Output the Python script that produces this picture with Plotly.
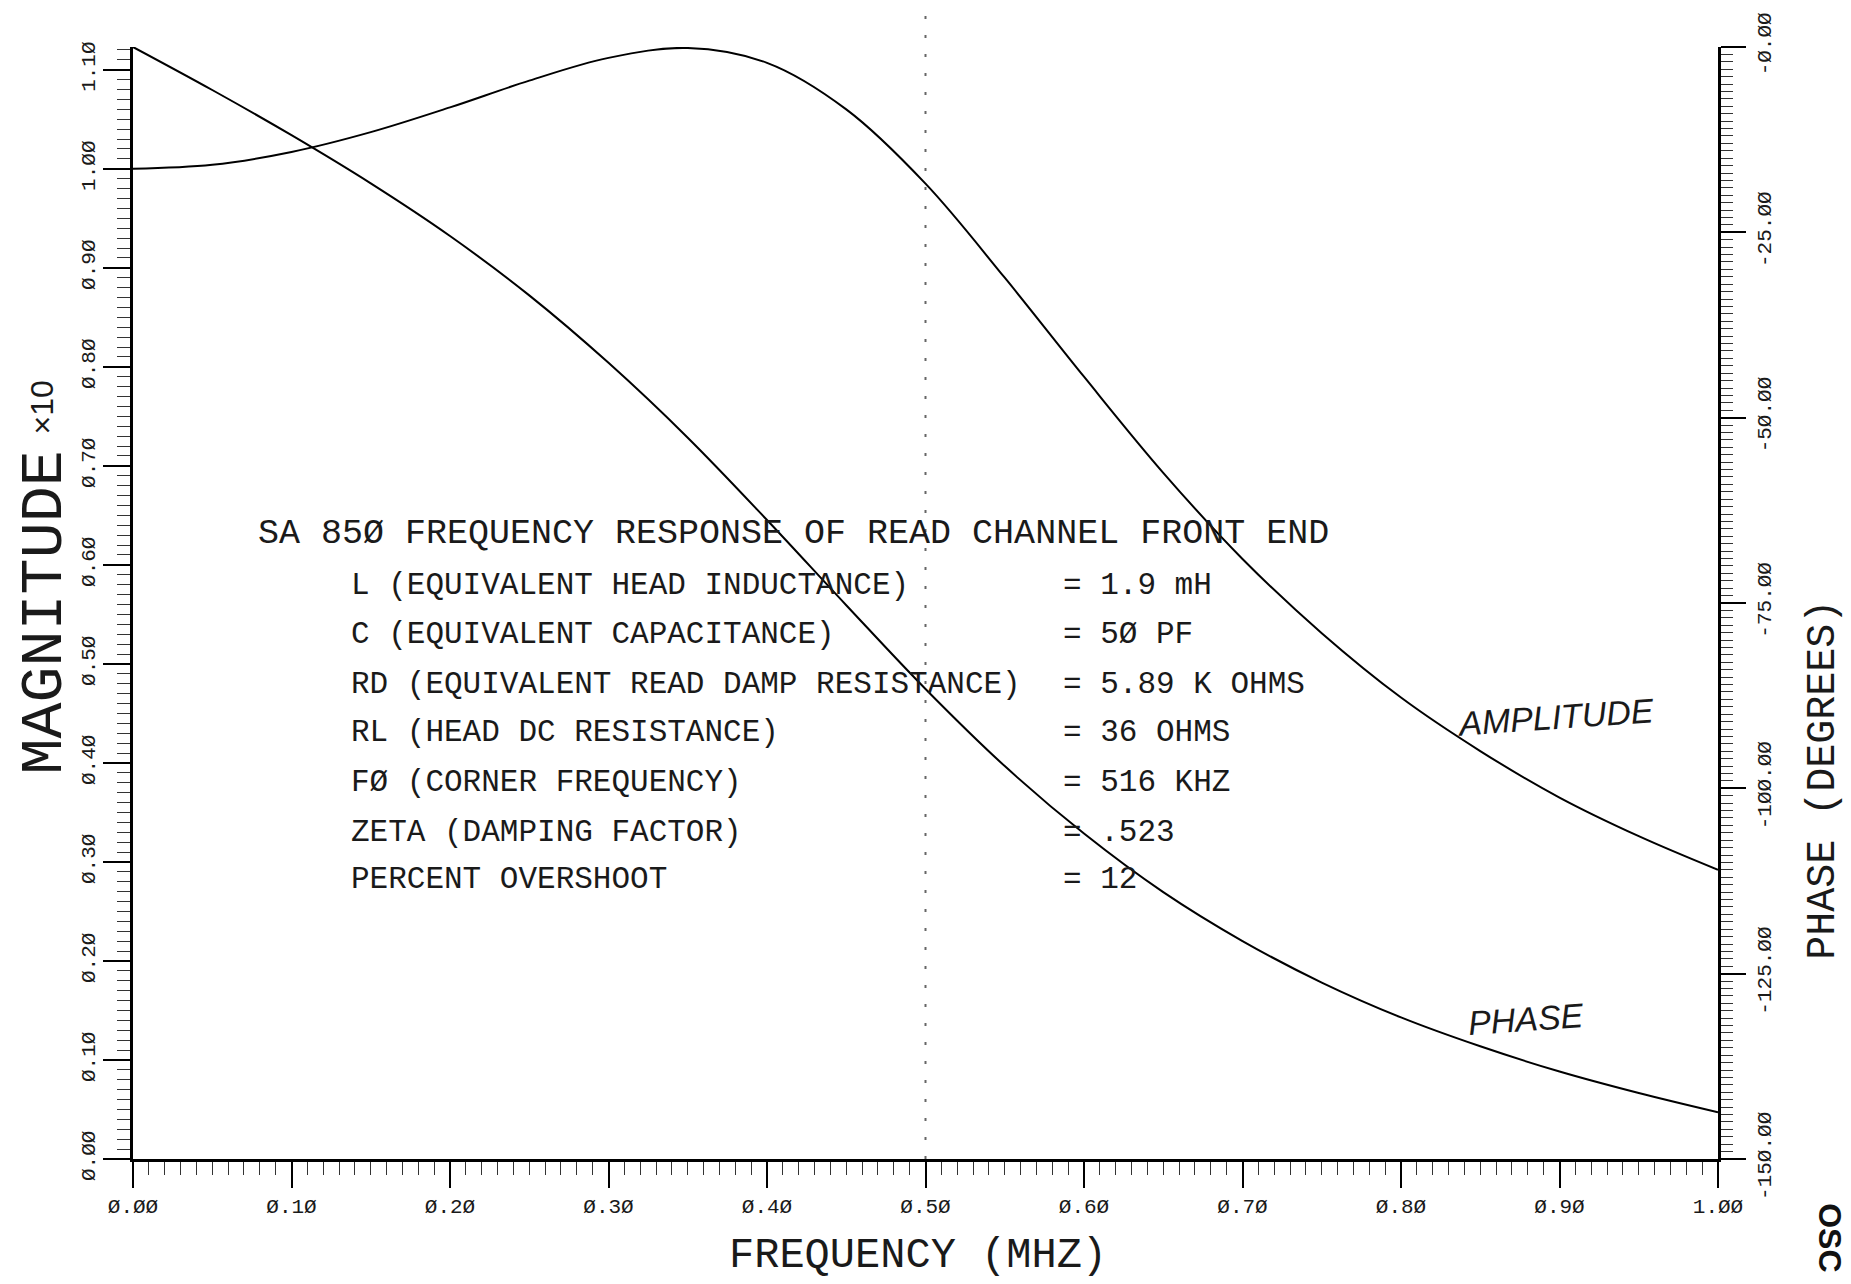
import plotly.graph_objects as go

# ---- data ----
freq_mhz = [0.00, 0.05, 0.10, 0.15, 0.20, 0.25, 0.30, 0.35, 0.40, 0.45, 0.50,
            0.55, 0.60, 0.65, 0.70, 0.75, 0.80, 0.85, 0.90, 0.95, 1.00]
amplitude = [1.000, 1.004, 1.017, 1.037, 1.062, 1.089, 1.112, 1.122, 1.107, 1.060, 0.985,
             0.890, 0.790, 0.693, 0.606, 0.531, 0.466, 0.412, 0.365, 0.326, 0.292]
phase_deg = [0.0, -5.8, -11.9, -18.4, -25.5, -33.5, -42.6, -52.7, -63.8, -75.3, -86.6,
             -97.0, -106.1, -114.0, -120.6, -126.2, -130.9, -134.8, -138.2, -141.1, -143.7]

x_tickvals = [0.0, 0.1, 0.2, 0.3, 0.4, 0.5, 0.6, 0.7, 0.8, 0.9, 1.0]
x_ticktext = ["Ø.ØØ", "Ø.1Ø", "Ø.2Ø", "Ø.3Ø", "Ø.4Ø", "Ø.5Ø", "Ø.6Ø", "Ø.7Ø", "Ø.8Ø", "Ø.9Ø", "1.ØØ"]
y_tickvals = [0.0, 0.1, 0.2, 0.3, 0.4, 0.5, 0.6, 0.7, 0.8, 0.9, 1.0, 1.1]
y_ticktext = ["Ø.ØØ", "Ø.1Ø", "Ø.2Ø", "Ø.3Ø", "Ø.4Ø", "Ø.5Ø", "Ø.6Ø", "Ø.7Ø", "Ø.8Ø", "Ø.9Ø", "1.ØØ", "1.1Ø"]
y2_tickvals = [-150, -125, -100, -75, -50, -25, 0]
y2_ticktext = ["-15Ø.ØØ", "-125.ØØ", "-1ØØ.ØØ", "-75.ØØ", "-5Ø.ØØ", "-25.ØØ", "-Ø.ØØ"]

title_text = "SA 85Ø FREQUENCY RESPONSE OF READ CHANNEL FRONT END"
param_names = ["L (EQUIVALENT HEAD INDUCTANCE)",
               "C (EQUIVALENT CAPACITANCE)",
               "RD (EQUIVALENT READ DAMP RESISTANCE)",
               "RL (HEAD DC RESISTANCE)",
               "FØ (CORNER FREQUENCY)",
               "ZETA (DAMPING FACTOR)",
               "PERCENT OVERSHOOT"]
param_values = ["= 1.9 mH", "= 5Ø PF", "= 5.89 K OHMS", "= 36 OHMS", "= 516 KHZ", "= .523", "= 12"]

# ---- layout constants ----
W, H = 1851, 1284
L, R, T, B = 133, 1718, 36, 1159
YMAX = 1.123
MONO = "Liberation Mono, DejaVu Sans Mono, monospace"
HAND = "Liberation Sans, DejaVu Sans, sans-serif"
INK = "#1a1a1a"


def px(xp):
    return (xp - L) / (R - L)


def py(yp):
    return (B - yp) / (B - T)


fig = go.Figure()
fig.add_trace(go.Scatter(x=freq_mhz, y=amplitude, mode="lines", name="AMPLITUDE",
                         line=dict(color="black", width=2, shape="spline"), yaxis="y"))
fig.add_trace(go.Scatter(x=freq_mhz, y=phase_deg, mode="lines", name="PHASE",
                         line=dict(color="black", width=2, shape="spline"), yaxis="y2"))

tickfont = dict(family=MONO, size=21, color=INK)

fig.update_layout(
    width=W, height=H,
    margin=dict(l=L, r=W - R, t=T, b=H - B, pad=0),
    paper_bgcolor="white", plot_bgcolor="white",
    showlegend=False,
    xaxis=dict(range=[0, 1.0], showgrid=False, zeroline=False,
               showline=True, linecolor="black", linewidth=2.5,
               ticks="outside", ticklen=26, tickwidth=2, tickcolor="black",
               tickvals=x_tickvals, ticktext=x_ticktext, tickfont=tickfont,
               minor=dict(dtick=0.01, tick0=0, ticks="outside", ticklen=13,
                          tickwidth=1.2, tickcolor="#333", showgrid=False)),
    yaxis=dict(range=[0, YMAX], showgrid=False, zeroline=False,
               showline=True, linecolor="black", linewidth=2.5,
               ticks="outside", ticklen=27, tickwidth=2, tickcolor="black",
               tickvals=y_tickvals, ticktext=y_ticktext, tickfont=tickfont,
               tickangle=-90,
               minor=dict(dtick=0.01, tick0=0, ticks="outside", ticklen=13,
                          tickwidth=1.2, tickcolor="#333", showgrid=False)),
    yaxis2=dict(range=[-150, 0], overlaying="y", side="right", anchor="x",
                showgrid=False, zeroline=False,
                showline=True, linecolor="black", linewidth=2.5,
                ticks="outside", ticklen=25, tickwidth=2, tickcolor="black",
                tickvals=y2_tickvals, ticktext=y2_ticktext, tickfont=tickfont,
                tickangle=-90,
                minor=dict(dtick=1, tick0=0, ticks="outside", ticklen=12,
                           tickwidth=1, tickcolor="#333", showgrid=False)),
)

ann = []
# axis titles
ann.append(dict(text="MAGNITUDE", x=px(45), y=py(607), textangle=-90,
                font=dict(family=MONO, size=60, color=INK)))
ann.append(dict(text="×10", x=px(42), y=py(400), textangle=-90,
                font=dict(family=HAND, size=32, color=INK)))
ann.append(dict(text="FREQUENCY (MHZ)", x=px(918), y=py(1257),
                font=dict(family=MONO, size=42, color=INK)))
ann.append(dict(text="PHASE (DEGREES)", x=px(1824), y=py(776), textangle=-90,
                font=dict(family=MONO, size=40, color=INK)))
# title block
ann.append(dict(text=title_text, x=px(256), y=py(528), xanchor="left",
                font=dict(family=MONO, size=35, color=INK)))
row_y = [580, 629, 680, 728, 779, 829, 877]
for name, val, yy in zip(param_names, param_values, row_y):
    ann.append(dict(text=name, x=px(349), y=py(yy), xanchor="left",
                    font=dict(family=MONO, size=31, color=INK)))
    ann.append(dict(text=val, x=px(1061), y=py(yy), xanchor="left",
                    font=dict(family=MONO, size=31, color=INK)))
# handwritten curve labels
ann.append(dict(text="<i>AMPLITUDE</i>", x=px(1555), y=py(713), textangle=-4,
                font=dict(family=HAND, size=34, color=INK)))
ann.append(dict(text="<i>PHASE</i>", x=px(1526), y=py(1018), textangle=-4,
                font=dict(family=HAND, size=34, color=INK)))
# stamp at the bottom-right edge
ann.append(dict(text="<b>OSC</b>", x=px(1830), y=py(1238), textangle=90,
                font=dict(family=HAND, size=32, color="#111")))

for a in ann:
    a.setdefault("xanchor", "center")
    a.update(xref="paper", yref="paper", showarrow=False, yanchor="middle")
fig.update_layout(annotations=ann)

# faint dotted fold mark at 0.5 MHz
fig.add_shape(type="line", xref="x", yref="paper", x0=0.5, x1=0.5, y0=0.0, y1=py(0),
              line=dict(color="#666", width=2, dash="3px,16px"))

fig.write_html("out.html")
